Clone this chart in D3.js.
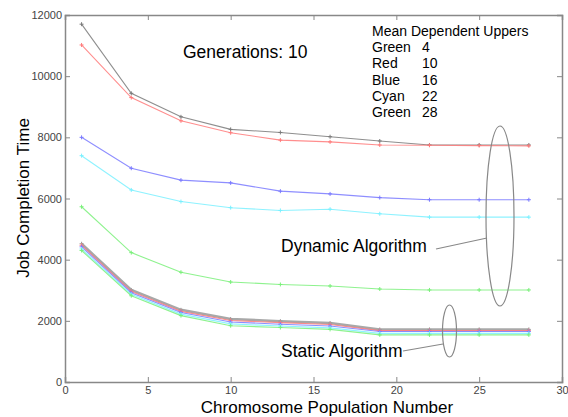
<!DOCTYPE html>
<html lang="en">
<head>
<meta charset="utf-8">
<title>Job Completion Time</title>
<script src="https://d3js.org/d3.v7.min.js"></script>
<style>
  body { margin: 0; background: #fff; }
  svg { display: block; font-family: "Liberation Sans", Arial, sans-serif; }
  .tick text { fill: #444; font-size: 11px; }
</style>
</head>
<body>
<script>
// chromosome population numbers
const populations = [1, 4, 7, 10, 13, 16, 19, 22, 25, 28];

// dynamic algorithm series
const dynGray  = [11700, 9440, 8670, 8260, 8160, 8020, 7880, 7750, 7750, 7750];
const dynRed   = [11020, 9300, 8540, 8150, 7910, 7850, 7750, 7740, 7730, 7720];
const dynBlue  = [8000, 6990, 6600, 6510, 6240, 6150, 6030, 5960, 5960, 5960];
const dynCyan  = [7400, 6280, 5900, 5700, 5610, 5650, 5500, 5390, 5390, 5390];
const dynGreen = [5730, 4230, 3590, 3270, 3190, 3140, 3040, 3010, 3010, 3010];

// static algorithm series
const stGray  = [4520, 3010, 2360, 2060, 1990, 1930, 1720, 1720, 1720, 1720];
const stRed   = [4470, 2960, 2310, 2010, 1940, 1880, 1680, 1680, 1680, 1680];
const stBlue  = [4420, 2920, 2270, 1960, 1890, 1830, 1650, 1650, 1650, 1650];
const stCyan  = [4350, 2870, 2220, 1900, 1830, 1770, 1590, 1590, 1590, 1590];
const stGreen = [4300, 2820, 2170, 1840, 1780, 1720, 1540, 1540, 1540, 1540];

const xTicks = [0, 5, 10, 15, 20, 25, 30];
const yTicks = [0, 2000, 4000, 6000, 8000, 10000, 12000];

const legendTitle = "Mean Dependent Uppers";
const legendNames = ["Green", "Red", "Blue", "Cyan", "Green"];
const legendValues = [4, 10, 16, 22, 28];

const series = [
  {values: dynGray,  color: "#7a7a7a", w: 1.1},
  {values: dynRed,   color: "#ff7a7a", w: 1.1},
  {values: dynBlue,  color: "#7a7aff", w: 1.1},
  {values: dynCyan,  color: "#7af0ff", w: 1.1},
  {values: dynGreen, color: "#7af07a", w: 1.1},
  {values: stGray,   color: "#999999", w: 2.5},
  {values: stRed,    color: "#ff7a7a", w: 1.1},
  {values: stBlue,   color: "#7a7aff", w: 1.1},
  {values: stCyan,   color: "#7af0ff", w: 1.1},
  {values: stGreen,  color: "#7af07a", w: 1.1}
];

const W = 568, H = 417;
const m = {left: 65, right: 6, top: 15, bottom: 35};

const svg = d3.select("body").append("svg")
  .attr("width", W)
  .attr("height", H);

const x = d3.scaleLinear().domain([0, 30]).range([m.left, W - m.right]);
const y = d3.scaleLinear().domain([0, 12000]).range([H - m.bottom, m.top]);

// axes, matlab style: ticks inside on all four sides
const axisColor = "#888";
const gx = svg.append("g").attr("transform", `translate(0,${H - m.bottom})`)
  .call(d3.axisBottom(x).tickValues(xTicks).tickSize(-5).tickPadding(4).tickFormat(d3.format("d")));
const gy = svg.append("g").attr("transform", `translate(${m.left},0)`)
  .call(d3.axisLeft(y).tickValues(yTicks).tickSize(-5).tickPadding(3).tickFormat(d3.format("d")));
const gt = svg.append("g").attr("transform", `translate(0,${m.top})`)
  .call(d3.axisTop(x).tickValues(xTicks).tickSize(-5).tickFormat(""));
const gr = svg.append("g").attr("transform", `translate(${W - m.right},0)`)
  .call(d3.axisRight(y).tickValues(yTicks).tickSize(-5).tickFormat(""));

[gx, gy, gt, gr].forEach(function(g) {
  g.select(".domain").attr("stroke", axisColor).attr("stroke-width", 1.5);
  g.selectAll(".tick line").attr("stroke", axisColor);
});

// series lines
const line = d3.line()
  .x(function(d, i) { return x(populations[i]); })
  .y(function(d) { return y(d); });

series.forEach(function(s) {
  svg.append("path")
    .datum(s.values)
    .attr("fill", "none")
    .attr("stroke", s.color)
    .attr("stroke-width", s.w)
    .attr("stroke-opacity", 0.85)
    .attr("d", line);

  // small plus markers
  svg.append("g").selectAll("path")
    .data(s.values)
    .join("path")
    .attr("d", function(d, i) {
      const px = x(populations[i]), py = y(d);
      return `M${px - 2},${py}H${px + 2}M${px},${py - 2}V${py + 2}`;
    })
    .attr("stroke", s.color)
    .attr("stroke-width", 1);
});

// annotations
svg.append("text")
  .attr("x", 183).attr("y", 58)
  .attr("font-size", 17.5)
  .text("Generations: 10");

svg.append("text")
  .attr("x", 372).attr("y", 36)
  .attr("font-size", 14)
  .text(legendTitle);

legendNames.forEach(function(n, i) {
  const ly = 52 + i * 16.3;
  svg.append("text").attr("x", 372).attr("y", ly).attr("font-size", 14).text(n);
  svg.append("text").attr("x", 422).attr("y", ly).attr("font-size", 14).text(legendValues[i]);
});

svg.append("text")
  .attr("x", 281).attr("y", 252)
  .attr("font-size", 17.5)
  .text("Dynamic Algorithm");

svg.append("text")
  .attr("x", 281).attr("y", 357)
  .attr("font-size", 17.5)
  .text("Static Algorithm");

// ellipses and leaders
svg.append("ellipse")
  .attr("cx", 500).attr("cy", 216).attr("rx", 14).attr("ry", 90)
  .attr("fill", "none").attr("stroke", "#888").attr("stroke-width", 1.2);
svg.append("line")
  .attr("x1", 436).attr("y1", 249).attr("x2", 487).attr("y2", 238)
  .attr("stroke", "#888").attr("stroke-width", 1.2);

svg.append("ellipse")
  .attr("cx", 449.5).attr("cy", 331).attr("rx", 7).attr("ry", 26)
  .attr("fill", "none").attr("stroke", "#888").attr("stroke-width", 1.2);
svg.append("line")
  .attr("x1", 403).attr("y1", 351).attr("x2", 443).attr("y2", 344)
  .attr("stroke", "#888").attr("stroke-width", 1.2);

// axis titles
svg.append("text")
  .attr("x", 327).attr("y", 413)
  .attr("text-anchor", "middle")
  .attr("font-size", 17)
  .text("Chromosome Population Number");

svg.append("text")
  .attr("transform", "translate(29,198) rotate(-90)")
  .attr("text-anchor", "middle")
  .attr("font-size", 17)
  .text("Job Completion Time");
</script>
</body>
</html>
